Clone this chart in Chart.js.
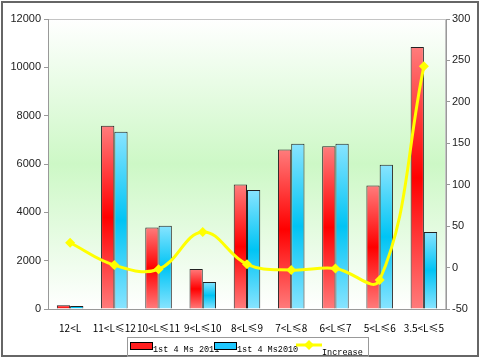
<!DOCTYPE html>
<html>
<head>
<meta charset="UTF-8">
<title>Sales by length</title>
<script src="https://cdn.jsdelivr.net/npm/chart.js"></script>
<style>
  html, body { margin: 0; padding: 0; background: #fff; }
  #wrap { width: 480px; height: 359px; }
</style>
</head>
<body>
<div id="wrap"><canvas id="chart" width="480" height="359"></canvas></div>
<script>
const categories = ['12<L', '11<L≤12', '10<L≤11', '9<L≤10', '8<L≤9', '7<L≤8', '6<L≤7', '5<L≤6', '3.5<L≤5'];
const sales2011 = [160, 7580, 3370, 1660, 5150, 6600, 6730, 5110, 10840];
const sales2010 = [125, 7330, 3450, 1120, 4920, 6840, 6840, 5970, 3190];
const increase = [30, 3, -2, 43, 4, -3, -1, -15, 243];
const leftTicks = [0, 2000, 4000, 6000, 8000, 10000, 12000];
const rightTicks = [-50, 0, 50, 100, 150, 200, 250, 300];

// vertical gradient per bar: light at ends, strong in the middle
function barFill(light, mid) {
    return function (c) {
        const chart = c.chart;
        if (!chart.chartArea || c.type !== 'data') return mid;
        const ys = chart.scales.y;
        const top = ys.getPixelForValue(c.raw);
        const bot = ys.getPixelForValue(0);
        if (!isFinite(top) || !isFinite(bot) || bot - top < 1) return mid;
        const g = chart.ctx.createLinearGradient(0, top, 0, bot);
        g.addColorStop(0, light);
        g.addColorStop(0.5, mid);
        g.addColorStop(1, light);
        return g;
    };
}

const frame = {
    id: 'frame',
    beforeDraw(chart) {
        const { ctx, chartArea: a } = chart;
        ctx.save();
        const g = ctx.createLinearGradient(0, a.top, 0, a.bottom);
        g.addColorStop(0, '#ffffff');
        g.addColorStop(0.5, '#cdf8c6');
        g.addColorStop(1, '#ffffff');
        ctx.fillStyle = g;
        ctx.fillRect(a.left, a.top, a.right - a.left, a.bottom - a.top);
        ctx.strokeStyle = '#c4c4c4';
        ctx.lineWidth = 1;
        ctx.strokeRect(a.left + 0.5, a.top + 0.5, a.right - a.left - 1, a.bottom - a.top);
        ctx.restore();
    },
    afterDraw(chart) {
        const ctx = chart.ctx;
        ctx.save();
        // outer border
        ctx.strokeStyle = '#666';
        ctx.lineWidth = 2;
        ctx.strokeRect(2, 2, 476, 354);
        // legend
        ctx.lineWidth = 1;
        ctx.strokeStyle = '#999';
        ctx.strokeRect(127.5, 337.5, 241, 19);
        ctx.font = '8.5px "Liberation Mono"';
        ctx.textBaseline = 'alphabetic';
        const items = chart.data.datasets;
        // red swatch
        ctx.fillStyle = '#ff2020';
        ctx.fillRect(131, 343, 21, 6);
        ctx.strokeStyle = '#000';
        ctx.strokeRect(130.5, 342.5, 22, 7);
        ctx.fillStyle = '#000';
        ctx.fillText(items[0].label, 153, 352);
        // blue swatch
        ctx.fillStyle = '#20c8ff';
        ctx.fillRect(215, 343, 21, 6);
        ctx.strokeRect(214.5, 342.5, 22, 7);
        ctx.fillStyle = '#000';
        ctx.fillText(items[1].label, 237, 352);
        // line swatch
        ctx.strokeStyle = '#ffff00';
        ctx.lineWidth = 3;
        ctx.beginPath();
        ctx.moveTo(296, 345);
        ctx.lineTo(322, 345);
        ctx.stroke();
        ctx.fillStyle = '#ffff00';
        ctx.beginPath();
        ctx.moveTo(309, 340); ctx.lineTo(314, 345); ctx.lineTo(309, 350); ctx.lineTo(304, 345);
        ctx.closePath();
        ctx.fill();
        ctx.fillStyle = '#000';
        ctx.fillText(items[2].label, 322, 355);
        ctx.restore();
    }
};

new Chart(document.getElementById('chart'), {
    type: 'bar',
    data: {
        labels: categories,
        datasets: [
            {
                label: '1st 4 Ms 2011',
                data: sales2011,
                backgroundColor: barFill('#ff7c7c', '#ff0000'),
                borderColor: '#222',
                borderWidth: 1,
                yAxisID: 'y',
                order: 1,
                categoryPercentage: 0.6,
                barPercentage: 1.0
            },
            {
                label: '1st 4 Ms2010',
                data: sales2010,
                backgroundColor: barFill('#88e4ff', '#00c4f4'),
                borderColor: '#222',
                borderWidth: 1,
                yAxisID: 'y',
                order: 1,
                categoryPercentage: 0.6,
                barPercentage: 1.0
            },
            {
                type: 'line',
                label: 'Increase',
                data: increase,
                yAxisID: 'y1',
                borderColor: '#ffff00',
                backgroundColor: '#ffff00',
                borderWidth: 3,
                tension: 0.4,
                pointStyle: 'rectRot',
                pointRadius: 5,
                pointBorderWidth: 0,
                order: 0
            }
        ]
    },
    options: {
        responsive: false,
        animation: false,
        layout: { padding: { top: 19, left: 0, right: 0, bottom: 0 } },
        plugins: { legend: { display: false }, tooltip: { enabled: false } },
        scales: {
            x: {
                afterFit(s) { s.height = 50; },
                grid: { display: false },
                border: { color: '#999' },
                ticks: {
                    padding: 5,
                    maxRotation: 0,
                    autoSkip: false,
                    color: '#000',
                    font: { family: '"Noto Sans CJK SC"', size: 10 }
                }
            },
            y: {
                position: 'left',
                min: 0,
                max: 12000,
                afterFit(s) { s.width = 48; },
                afterBuildTicks(s) { s.ticks = leftTicks.map(v => ({ value: v })); },
                grid: { drawOnChartArea: false, tickLength: 4, color: '#999' },
                border: { color: '#999' },
                ticks: {
                    padding: 3,
                    color: '#222',
                    callback: v => String(v),
                    font: { family: '"Liberation Sans"', size: 11 }
                }
            },
            y1: {
                position: 'right',
                min: -50,
                max: 300,
                afterFit(s) { s.width = 34; },
                afterBuildTicks(s) { s.ticks = rightTicks.map(v => ({ value: v })); },
                grid: { drawOnChartArea: false, tickLength: 4, color: '#999' },
                border: { color: '#999' },
                ticks: {
                    padding: 2,
                    color: '#222',
                    callback: v => String(v),
                    font: { family: '"Liberation Sans"', size: 11 }
                }
            }
        }
    },
    plugins: [frame]
});
</script>
</body>
</html>
